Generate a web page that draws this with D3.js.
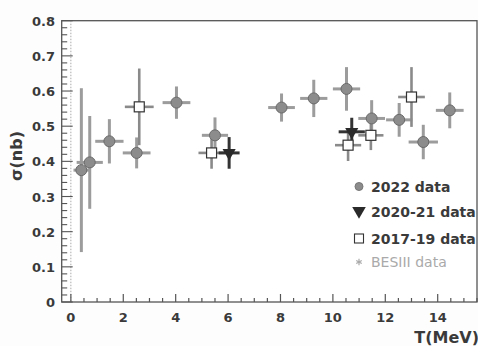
<!DOCTYPE html>
<html><head><meta charset="utf-8">
<script src="https://cdn.jsdelivr.net/npm/d3@7"></script>
<style>html,body{margin:0;padding:0;background:#fdfdfd;}svg{display:block;}</style>
</head><body>
<script>
// ---- data ----
const d2022X    = [0.40, 0.72, 1.47, 2.51, 4.03, 5.50, 8.04, 9.27, 10.52, 11.48, 12.53, 13.45, 14.46];
const d2022Y    = [0.375, 0.397, 0.457, 0.424, 0.567, 0.474, 0.553, 0.579, 0.606, 0.522, 0.518, 0.455, 0.545];
const d2022YErr = [0.233, 0.132, 0.063, 0.044, 0.046, 0.051, 0.040, 0.053, 0.062, 0.052, 0.048, 0.049, 0.051];
const d2022XErr = [0.30, 0.50, 0.54, 0.53, 0.53, 0.50, 0.51, 0.52, 0.52, 0.51, 0.50, 0.56, 0.53];

const d2021X    = [6.04, 10.72];
const d2021Y    = [0.424, 0.484];
const d2021YErr = [0.045, 0.040];
const d2021XErr = [0.40, 0.50];

const d2017X    = [2.61, 5.37, 10.58, 11.45, 13.00];
const d2017Y    = [0.555, 0.424, 0.446, 0.474, 0.583];
const d2017YErr = [0.109, 0.045, 0.045, 0.042, 0.085];
const d2017XErr = [0.55, 0.50, 0.50, 0.48, 0.51];

const xTicks = [0, 2, 4, 6, 8, 10, 12, 14];
const yTicks = [0, 0.1, 0.2, 0.3, 0.4, 0.5, 0.6, 0.7, 0.8];
const legendLabels = ["2022 data", "2020-21 data", "2017-19 data", "BESIII data"];

// ---- layout ----
const W = 478, H = 346;
const L = 61.7, R = 477, T = 20.7, B = 302;
const svg = d3.select("body").append("svg").attr("width", W).attr("height", H);
const x = d3.scaleLinear().domain([-0.35, 15.5]).range([L, R]);
const y = d3.scaleLinear().domain([0, 0.8]).range([B, T]);
const FONT = "'DejaVu Sans', sans-serif";
const INK = "#3a3a3a";

// frame
svg.append("rect").attr("x", L).attr("y", T).attr("width", R - L).attr("height", B - T)
  .attr("fill", "#ffffff").attr("stroke", "#555").attr("stroke-width", 1.3);

// dotted zero line
svg.append("line").attr("x1", x(0)).attr("x2", x(0)).attr("y1", T).attr("y2", B)
  .attr("stroke", "#aaa").attr("stroke-width", 1).attr("stroke-dasharray", "1.5,1.5");

// x ticks
const xMinor = d3.range(0, 15.51, 0.5);
svg.append("g").selectAll("line").data(xMinor).join("line")
  .attr("x1", d => x(d)).attr("x2", d => x(d))
  .attr("y1", B).attr("y2", d => B - (d % 2 === 0 ? 8 : 4))
  .attr("stroke", "#555").attr("stroke-width", 1.2);
svg.append("g").selectAll("text").data(xTicks).join("text")
  .attr("x", d => x(d)).attr("y", 322).attr("text-anchor", "middle")
  .attr("font-family", FONT).attr("font-weight", "bold").attr("font-size", 13)
  .attr("fill", INK).text(d => d);

// y ticks
const yMinor = d3.range(0, 0.8001, 0.02);
svg.append("g").selectAll("line").data(yMinor).join("line")
  .attr("x1", L).attr("x2", (d, i) => L + (i % 5 === 0 ? 11 : 5.5))
  .attr("y1", d => y(d)).attr("y2", d => y(d))
  .attr("stroke", "#555").attr("stroke-width", 1.1);
svg.append("g").selectAll("text").data(yTicks).join("text")
  .attr("x", 55).attr("y", d => y(d) + 5).attr("text-anchor", "end")
  .attr("font-family", FONT).attr("font-weight", "bold").attr("font-size", 13)
  .attr("fill", INK).text(d => d === 0 ? "0" : d.toFixed(1));

// axis titles
svg.append("text").attr("transform", "translate(22,156) rotate(-90)")
  .attr("text-anchor", "middle").attr("font-family", FONT).attr("font-weight", "bold")
  .attr("font-size", 16).attr("fill", INK).text("σ(nb)");
svg.append("text").attr("x", 479).attr("y", 343).attr("text-anchor", "end")
  .attr("font-family", FONT).attr("font-weight", "bold")
  .attr("font-size", 16).attr("fill", INK).text("T(MeV)");

// error bars + markers
function series(xs, ys, yerr, xerr, barColor, barW) {
  const data = xs.map((v, i) => ({x: v, y: ys[i], ey: yerr[i], ex: xerr[i]}));
  const g = svg.append("g");
  g.selectAll(".v").data(data).join("line")
    .attr("x1", d => x(d.x)).attr("x2", d => x(d.x))
    .attr("y1", d => y(d.y - d.ey)).attr("y2", d => y(d.y + d.ey))
    .attr("stroke", barColor).attr("stroke-width", barW);
  g.selectAll(".h").data(data).join("line")
    .attr("x1", d => x(d.x - d.ex)).attr("x2", d => x(d.x + d.ex))
    .attr("y1", d => y(d.y)).attr("y2", d => y(d.y))
    .attr("stroke", barColor).attr("stroke-width", barW);
  return data;
}
const s22 = series(d2022X, d2022Y, d2022YErr, d2022XErr, "#9c9c9c", 3);
const s17 = series(d2017X, d2017Y, d2017YErr, d2017XErr, "#8a8a8a", 2.6);
const s21 = series(d2021X, d2021Y, d2021YErr, d2021XErr, "#333", 3);

svg.append("g").selectAll("circle").data(s22).join("circle")
  .attr("cx", d => x(d.x)).attr("cy", d => y(d.y)).attr("r", 5.5)
  .attr("fill", "#8c8c8c").attr("stroke", "#6a6a6a").attr("stroke-width", 1);
const triSym = d3.symbol().type(d3.symbolTriangle).size(75);
svg.append("g").selectAll("path").data(s21).join("path")
  .attr("d", triSym)
  .attr("transform", d => `translate(${x(d.x)},${y(d.y)}) rotate(180)`)
  .attr("fill", "#2a2a2a");
svg.append("g").selectAll("rect").data(s17).join("rect")
  .attr("x", d => x(d.x) - 5).attr("y", d => y(d.y) - 5).attr("width", 10).attr("height", 10)
  .attr("fill", "#fff").attr("stroke", "#333").attr("stroke-width", 1.2);

// legend
const lg = svg.append("g");
const ly = [191.5, 217, 244, 267];
const lmx = 359, ltx = 371;
lg.append("circle").attr("cx", lmx).attr("cy", ly[0] - 5).attr("r", 4)
  .attr("fill", "#8c8c8c").attr("stroke", "#777");
lg.append("path").attr("d", d3.symbol().type(d3.symbolTriangle).size(80))
  .attr("transform", `translate(${lmx},${ly[1] - 6}) rotate(180)`).attr("fill", "#2a2a2a");
lg.append("rect").attr("x", lmx - 4.5).attr("y", ly[2] - 10).attr("width", 9).attr("height", 9)
  .attr("fill", "#fff").attr("stroke", "#333").attr("stroke-width", 1.1);
lg.append("path").attr("d", d3.symbol().type(d3.symbolAsterisk).size(28))
  .attr("transform", `translate(${lmx},${ly[3] - 5})`).attr("fill", "none")
  .attr("stroke", "#aaa").attr("stroke-width", 1.2);
lg.selectAll("text").data(legendLabels).join("text")
  .attr("x", ltx).attr("y", (d, i) => ly[i])
  .attr("font-family", FONT).attr("font-size", 14)
  .attr("font-weight", (d, i) => i === 3 ? "normal" : "bold")
  .attr("fill", (d, i) => i === 3 ? "#aaa" : INK).text(d => d);
</script>
</body></html>
